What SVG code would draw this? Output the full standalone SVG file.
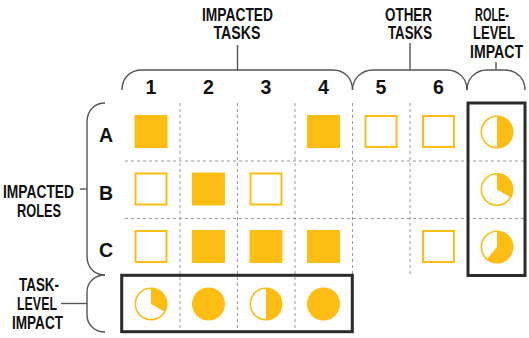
<svg xmlns="http://www.w3.org/2000/svg" width="529" height="338" viewBox="0 0 529 338">
  <style>
    .lbl { font-family: "Liberation Sans", Arial, sans-serif; font-weight: bold; font-size: 17.5px; fill: #111; text-anchor: middle; }
    .hdr { font-family: "Liberation Sans", Arial, sans-serif; font-weight: bold; font-size: 19.5px; fill: #111; text-anchor: middle; }
    .grid { stroke: #9a9a9a; stroke-width: 1; stroke-dasharray: 3 3; fill: none; }
    .brace { stroke: #555; stroke-width: 1.4; fill: none; }
    .full { fill: #FDBD13; }
    .open { fill: #fff; stroke: #FDBD13; stroke-width: 2; }
    .ring { fill: #fff; stroke: #FDBD13; stroke-width: 1.6; }
    .frame { fill: none; stroke: #2b2b2b; stroke-width: 3; }
  </style>

  <rect width="529" height="338" fill="#fff"/>

  <!-- dashed grid -->
  <g id="grid">
    <path class="grid" d="M180,103 V331 M237.5,103 V331 M295,103 V331 M352.5,103 V275 M410,103 V275"/>
    <path class="grid" d="M125,161 H525 M125,218.5 H525"/>
  </g>

  <!-- braces and their leader ticks -->
  <g id="connectors">
    <path class="brace" d="M122,90 C122,78 130,70 142,70 H333 C345,70 352.5,79 352.5,90"/>
    <path class="brace" d="M237.5,45 V70"/>
    <path class="brace" d="M352.5,90 C352.5,79 361,70 373,70 H447 C459,70 467,79 467,90"/>
    <path class="brace" d="M410,43 V70"/>
    <path class="brace" d="M467,90 C467,79 475,70 487,70 H505 C517,70 525,79 525,90"/>
    <path class="brace" d="M496,62 V70"/>
    <path class="brace" d="M105,103 C95,103 87,110 87,122 V256 C87,268 95,275 105,275"/>
    <path class="brace" d="M80,189 H87"/>
    <path class="brace" d="M105,275 C95,275 87,282 87,292 V315 C87,325 95,332 105,332"/>
    <path class="brace" d="M61,303.5 H87"/>
  </g>

  <!-- group labels -->
  <g id="label-impacted-tasks">
    <text class="lbl" x="237.5" y="21" textLength="71" lengthAdjust="spacingAndGlyphs">IMPACTED</text>
    <text class="lbl" x="237" y="38.5" textLength="47" lengthAdjust="spacingAndGlyphs">TASKS</text>
  </g>
  <g id="label-other-tasks">
    <text class="lbl" x="408.5" y="21" textLength="47" lengthAdjust="spacingAndGlyphs">OTHER</text>
    <text class="lbl" x="410" y="38.5" textLength="44" lengthAdjust="spacingAndGlyphs">TASKS</text>
  </g>
  <g id="label-role-level-impact">
    <text class="lbl" x="492" y="21" textLength="34" lengthAdjust="spacingAndGlyphs">ROLE-</text>
    <text class="lbl" x="494" y="38.5" textLength="42" lengthAdjust="spacingAndGlyphs">LEVEL</text>
    <text class="lbl" x="496.5" y="57.5" textLength="53" lengthAdjust="spacingAndGlyphs">IMPACT</text>
  </g>
  <g id="label-impacted-roles">
    <text class="lbl" x="38.5" y="198" textLength="71" lengthAdjust="spacingAndGlyphs">IMPACTED</text>
    <text class="lbl" x="39" y="217" textLength="44" lengthAdjust="spacingAndGlyphs">ROLES</text>
  </g>
  <g id="label-task-level-impact">
    <text class="lbl" x="39" y="291" textLength="40" lengthAdjust="spacingAndGlyphs">TASK-</text>
    <text class="lbl" x="37" y="310" textLength="40" lengthAdjust="spacingAndGlyphs">LEVEL</text>
    <text class="lbl" x="37.5" y="328.5" textLength="51" lengthAdjust="spacingAndGlyphs">IMPACT</text>
  </g>

  <!-- column headers -->
  <g id="columns">
    <text class="hdr" x="151" y="94">1</text>
    <text class="hdr" x="208.5" y="94">2</text>
    <text class="hdr" x="266" y="94">3</text>
    <text class="hdr" x="323.5" y="94">4</text>
    <text class="hdr" x="381" y="94">5</text>
    <text class="hdr" x="438.5" y="94">6</text>
  </g>

  <!-- row headers -->
  <g id="rows">
    <text class="hdr" x="106" y="142">A</text>
    <text class="hdr" x="106" y="199.5">B</text>
    <text class="hdr" x="106" y="256.5">C</text>
  </g>

  <!-- role A -->
  <g id="row-a">
    <rect class="full" x="134.5" y="115" width="33" height="33"/>
    <rect class="full" x="307" y="115" width="33" height="33"/>
    <rect class="open" x="365.5" y="116" width="31" height="31"/>
    <rect class="open" x="423" y="116" width="31" height="31"/>
  </g>

  <!-- role B -->
  <g id="row-b">
    <rect class="open" x="135.5" y="173.5" width="31" height="31"/>
    <rect class="full" x="192" y="172.5" width="33" height="33"/>
    <rect class="open" x="250.5" y="173.5" width="31" height="31"/>
  </g>

  <!-- role C -->
  <g id="row-c">
    <rect class="open" x="135.5" y="231" width="31" height="31"/>
    <rect class="full" x="192" y="230" width="33" height="33"/>
    <rect class="full" x="249.5" y="230" width="33" height="33"/>
    <rect class="full" x="307" y="230" width="33" height="33"/>
    <rect class="open" x="423" y="231" width="31" height="31"/>
  </g>

  <!-- per-role impact -->
  <g id="role-level-impact">
    <rect class="frame" x="468" y="103" width="57" height="172.5"/>
    <circle class="ring" cx="497" cy="132" r="15.7"/>
    <path class="full" d="M497,116 A16,16 0 0 1 497,148 Z"/>
    <circle class="ring" cx="497" cy="189.5" r="15.7"/>
    <path class="full" d="M497,189.5 L497,173.5 A16,16 0 0 1 510.86,197.5 Z"/>
    <circle class="ring" cx="497" cy="247" r="15.7"/>
    <path class="full" d="M497,247 L497,231 A16,16 0 1 1 486.72,259.26 Z"/>
  </g>

  <!-- per-task impact -->
  <g id="task-level-impact">
    <rect class="frame" x="121.7" y="275.3" width="230.6" height="56.4"/>
    <circle class="ring" cx="151" cy="304" r="15.7"/>
    <path class="full" d="M151,304 L151,288 A16,16 0 0 1 164.86,312 Z"/>
    <circle class="full" cx="208.5" cy="304" r="16.5"/>
    <circle class="ring" cx="266" cy="304" r="15.7"/>
    <path class="full" d="M266,288 A16,16 0 0 1 266,320 Z"/>
    <circle class="full" cx="323.5" cy="304" r="16.5"/>
  </g>
</svg>
